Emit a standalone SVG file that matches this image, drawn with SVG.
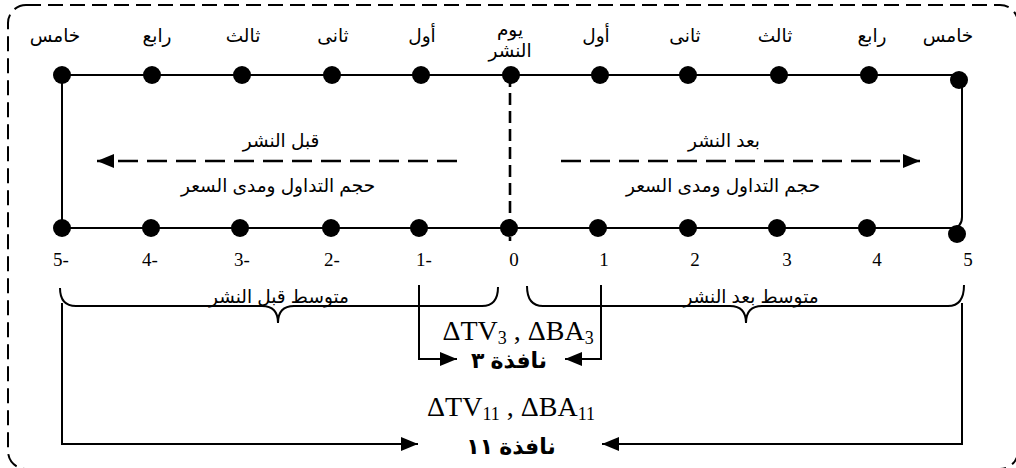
<svg xmlns="http://www.w3.org/2000/svg" width="1016" height="468" viewBox="0 0 1016 468">
  <style>
    .ar { font-family: "Liberation Sans", "DejaVu Sans", sans-serif; font-size: 18.5px; fill: #000; text-anchor: middle; direction: rtl; }
    .arb { font-family: "Liberation Sans", "DejaVu Sans", sans-serif; font-size: 22px; font-weight: bold; fill: #000; text-anchor: middle; direction: rtl; }
    .num { font-family: "Liberation Serif", serif; font-size: 19px; fill: #000; text-anchor: middle; }
    .math { font-family: "Liberation Serif", serif; font-size: 28px; fill: #000; text-anchor: middle; }
    .ln { fill: none; stroke: #000; stroke-width: 2; }
    .dash { fill: none; stroke: #000; stroke-width: 2.6; stroke-dasharray: 20 9; }
    .vdash { fill: none; stroke: #000; stroke-width: 2.6; stroke-dasharray: 12 6; }
    .dot { fill: #000; }
  </style>
  <defs>
    <marker id="head" markerUnits="userSpaceOnUse" markerWidth="18" markerHeight="14" viewBox="0 0 18 14" refX="17" refY="7" orient="auto">
      <path d="M0,0 L17,7 L0,14 Z" fill="#000" stroke="none"/>
    </marker>
  </defs>

  <!-- outer dashed frame -->
  <rect x="8" y="5" width="1010" height="464" rx="18" ry="18" fill="none" stroke="#000" stroke-width="2" stroke-dasharray="15 7"/>

  <!-- timeline frame, day-zero divider and connectors -->
  <g id="connectors">
    <path class="ln" d="M957,75 H62 V228 H951 Q962,228 962,217 V80"/>
    <line class="vdash" x1="510" y1="75" x2="510" y2="241"/>
    <line class="dash" x1="457" y1="161" x2="97" y2="161" marker-end="url(#head)"/>
    <line class="dash" x1="561" y1="161" x2="920" y2="161" marker-end="url(#head)"/>
    <!-- window 3 -->
    <path class="ln" d="M419,285 V359 H457" marker-end="url(#head)"/>
    <path class="ln" d="M601,285 V359 H565" marker-end="url(#head)"/>
    <!-- window 11 -->
    <path class="ln" d="M62,303 V444 H418" marker-end="url(#head)"/>
    <path class="ln" d="M962,303 V444 H602" marker-end="url(#head)"/>
  </g>

  <!-- top row of days -->
  <g id="top-days">
    <circle class="dot" cx="62" cy="75" r="9"/>
    <circle class="dot" cx="152" cy="75" r="9"/>
    <circle class="dot" cx="242" cy="75" r="9"/>
    <circle class="dot" cx="332" cy="75" r="9"/>
    <circle class="dot" cx="421" cy="75" r="9"/>
    <circle class="dot" cx="511" cy="75" r="9"/>
    <circle class="dot" cx="600" cy="75" r="9"/>
    <circle class="dot" cx="688" cy="75" r="9"/>
    <circle class="dot" cx="779" cy="75" r="9"/>
    <circle class="dot" cx="869" cy="75" r="9"/>
    <circle class="dot" cx="959" cy="80" r="9"/>
    <text class="ar" x="55" y="42">خامس</text>
    <text class="ar" x="157" y="42">رابع</text>
    <text class="ar" x="243" y="42">ثالث</text>
    <text class="ar" x="333" y="42">ثانى</text>
    <text class="ar" x="422" y="42">أول</text>
    <text class="ar" x="510" y="36">يوم</text>
    <text class="ar" x="510" y="57">النشر</text>
    <text class="ar" x="596" y="42">أول</text>
    <text class="ar" x="685" y="42">ثانى</text>
    <text class="ar" x="775" y="42">ثالث</text>
    <text class="ar" x="872" y="42">رابع</text>
    <text class="ar" x="948" y="42">خامس</text>
  </g>

  <!-- before / after labels -->
  <g id="before-label">
    <text class="ar" x="281" y="147">قبل النشر</text>
    <text class="ar" x="278" y="192">حجم التداول ومدى السعر</text>
  </g>
  <g id="after-label">
    <text class="ar" x="724" y="147">بعد النشر</text>
    <text class="ar" x="723" y="192">حجم التداول ومدى السعر</text>
  </g>

  <!-- bottom row of days -->
  <g id="bottom-days">
    <circle class="dot" cx="62" cy="228" r="9"/>
    <circle class="dot" cx="151" cy="228" r="9"/>
    <circle class="dot" cx="240" cy="228" r="9"/>
    <circle class="dot" cx="331" cy="228" r="9"/>
    <circle class="dot" cx="419" cy="228" r="9"/>
    <circle class="dot" cx="509" cy="228" r="9"/>
    <circle class="dot" cx="598" cy="228" r="9"/>
    <circle class="dot" cx="688" cy="228" r="9"/>
    <circle class="dot" cx="777" cy="228" r="9"/>
    <circle class="dot" cx="867" cy="228" r="9"/>
    <circle class="dot" cx="957" cy="234" r="9"/>
    <text class="num" x="61" y="266">5-</text>
    <text class="num" x="150" y="266">4-</text>
    <text class="num" x="242" y="266">3-</text>
    <text class="num" x="332" y="266">2-</text>
    <text class="num" x="424" y="266">1-</text>
    <text class="num" x="514" y="266">0</text>
    <text class="num" x="604" y="266">1</text>
    <text class="num" x="695" y="266">2</text>
    <text class="num" x="787" y="266">3</text>
    <text class="num" x="877" y="266">4</text>
    <text class="num" x="968" y="266">5</text>
  </g>

  <!-- averaging braces -->
  <g id="brace-before">
    <path class="ln" stroke-width="1.6" d="M60,288 Q60,306 76,306 H262 Q278,306 278,323 Q278,306 294,306 H482 Q498,306 498,287"/>
    <text class="ar" x="279" y="303">متوسط قبل النشر</text>
  </g>
  <g id="brace-after">
    <path class="ln" stroke-width="1.6" d="M527,286 Q527,306 543,306 H730 Q746,306 746,323 Q746,306 762,306 H948 Q964,306 964,285"/>
    <text class="ar" x="751" y="303">متوسط بعد النشر</text>
  </g>

  <!-- event windows -->
  <g id="window-3">
    <text class="math" x="518" y="340">ΔTV<tspan font-size="18" dy="4">3</tspan><tspan dy="-4"> , ΔBA</tspan><tspan font-size="18" dy="4">3</tspan></text>
    <text class="arb" x="509" y="368">نافذة ٣</text>
  </g>
  <g id="window-11">
    <text class="math" x="511" y="416">ΔTV<tspan font-size="18" dy="4">11</tspan><tspan dy="-4"> , ΔBA</tspan><tspan font-size="18" dy="4">11</tspan></text>
    <text class="arb" x="511" y="454">نافذة ١١</text>
  </g>
</svg>
